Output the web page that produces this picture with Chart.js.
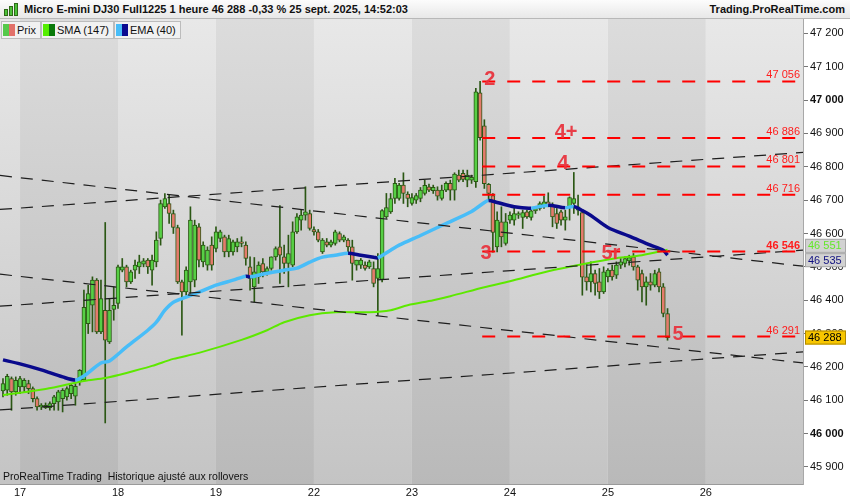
<!DOCTYPE html>
<html>
<head>
<meta charset="utf-8">
<script src="https://cdn.jsdelivr.net/npm/chart.js@4.4.1/dist/chart.umd.min.js"></script>
<style>
  body { margin: 0; background: #fff; }
  #wrap { position: relative; width: 850px; height: 500px; overflow: hidden; font-family: "Liberation Sans", Arial, sans-serif; }
  #chart { position: absolute; left: 0; top: 0; }
  #head { position: absolute; left: 0; top: 0; width: 850px; height: 19px; box-sizing: border-box;
          background: linear-gradient(#fcfcfc, #e8e8e8); border-bottom: 1px solid #b8b8b8;
          font-weight: bold; font-size: 11px; line-height: 18px; color: #111; }
  #head .title { position: absolute; left: 24px; top: 0; }
  #head .site { position: absolute; right: 5px; top: 0; }
  #head .ico { position: absolute; left: 4px; top: 4px; width: 14px; height: 12px; }
  #head .ico span { position: absolute; bottom: 0; width: 2px; background: #4cc23a; border: 1px solid #2f6a18; }
  #legend { position: absolute; left: 1px; top: 21px; display: flex; }
  .item { height: 16px; border: 1px solid #bcbcbc; background: #f1f1f1; font-size: 11px; line-height: 16px;
          padding: 0 4px 0 1px; margin-right: 0; color: #111; white-space: nowrap; }
  .sw { display: inline-block; width: 6px; height: 12px; vertical-align: -2px; }
  .sw + .sw { margin-right: 2px; }
  #foot { position: absolute; left: 3px; top: 470px; font-size: 10.5px; color: #111; white-space: nowrap; }
</style>
</head>
<body>
<div id="wrap">
  <canvas id="chart" width="850" height="500"></canvas>
  <div id="head">
    <div class="ico"><span style="left:0;height:5px"></span><span style="left:5px;height:8px"></span><span style="left:10px;height:11px"></span></div>
    <div class="title">Micro E-mini DJ30 Full1225 1 heure 46 288 -0,33 % 25 sept. 2025, 14:52:03</div>
    <div class="site">Trading.ProRealTime.com</div>
  </div>
  <div id="legend">
    <div class="item"><span class="sw" style="background:#55c94a"></span><span class="sw" style="background:#e2716a"></span>Prix</div>
    <div class="item"><span class="sw" style="background:#55ee00"></span><span class="sw" style="background:#0a7a0a"></span>SMA (147)</div>
    <div class="item"><span class="sw" style="background:#48bdf8"></span><span class="sw" style="background:#0a0a90"></span>EMA (40)</div>
  </div>
  <div id="foot">ProRealTime Trading&nbsp; Historique ajusté aux rollovers</div>
</div>
<script>
// hourly bars, 16 sept 19h -> 25 sept 14h
const opens = [46128,46130,46165,46125,46140,46140,46150,46135,46105,46080,
  46085,46078,46090,46095,46105,46110,46120,46112,46155,46161,
  46330,46385,46460,46305,46370,46275,46372,46390,46490,46500,
  46455,46490,46500,46508,46520,46490,46515,46585,46680,46690,
  46660,46618,46455,46425,46455,46460,46620,46515,46505,46565,
  46555,46585,46590,46545,46545,46560,46575,46565,46500,46440,
  46470,46510,46485,46495,46530,46560,46530,46510,46505,46605,
  46640,46655,46660,46612,46605,46545,46575,46565,46570,46600,
  46580,46580,46560,46505,46505,46505,46500,46495,46465,46462,
  46650,46665,46705,46705,46745,46718,46690,46700,46705,46720,
  46740,46728,46730,46705,46730,46750,46730,46775,46780,46760,
  46760,46755,47022,46923,46747,46714,46560,46635,46570,46640,
  46640,46655,46648,46665,46648,46668,46675,46682,46695,46682,
  46660,46665,46640,46678,46690,46670,46663,46470,46455,46480,
  46455,46425,46470,46490,46475,46505,46510,46518,46530,46500,
  46480,46440,46455,46445,46485,46440,46360];
const highs = [46165,46178,46170,46170,46172,46165,46160,46140,46110,46090,
  46092,46095,46115,46130,46135,46140,46150,46150,46192,46430,
  46445,46470,46465,46460,46633,46405,46440,46505,46525,46505,
  46490,46520,46535,46525,46525,46535,46605,46700,46720,46715,
  46670,46625,46460,46500,46680,46640,46630,46575,46560,46590,
  46620,46610,46595,46595,46580,46585,46590,46575,46530,46528,
  46515,46525,46500,46530,46560,46684,46565,46595,46635,46660,
  46670,46740,46670,46620,46612,46585,46585,46580,46610,46605,
  46595,46585,46580,46520,46525,46515,46520,46515,46540,46672,
  46720,46720,46765,46750,46782,46725,46720,46720,46738,46760,
  46748,46745,46740,46745,46755,46760,46782,46790,46790,46790,
  46775,47035,47056,46941,46750,46720,46665,46680,46660,46665,
  46684,46665,46670,46670,46672,46680,46695,46712,46722,46692,
  46675,46670,46670,46710,46783,46715,46665,46510,46515,46490,
  46495,46500,46495,46505,46515,46525,46530,46535,46540,46505,
  46490,46470,46480,46490,46495,46450,46375];
const lows = [46110,46115,46070,46115,46120,46125,46120,46095,46070,46072,
  46075,46070,46070,46070,46065,46100,46105,46085,46145,46160,
  46300,46305,46300,46300,46032,46270,46340,46375,46485,46440,
  46450,46465,46480,46500,46480,46445,46500,46565,46675,46630,
  46600,46450,46295,46415,46420,46440,46500,46500,46490,46490,
  46545,46575,46530,46530,46535,46545,46560,46505,46430,46395,
  46450,46470,46475,46490,46520,46450,46480,46440,46500,46600,
  46610,46640,46610,46595,46575,46540,46560,46560,46565,46575,
  46575,46545,46460,46490,46495,46490,46495,46440,46355,46455,
  46645,46660,46690,46700,46690,46680,46685,46690,46695,46715,
  46725,46720,46700,46700,46725,46700,46700,46755,46755,46740,
  46750,46738,46880,46735,46700,46544,46545,46560,46565,46630,
  46625,46645,46615,46645,46640,46660,46670,46675,46680,46620,
  46615,46625,46610,46640,46660,46655,46415,46430,46425,46415,
  46405,46420,46455,46460,46465,46495,46500,46505,46490,46430,
  46395,46385,46430,46440,46425,46350,46280];
const closes = [46150,46172,46125,46160,46165,46160,46135,46105,46080,46085,
  46078,46090,46110,46125,46130,46135,46145,46142,46190,46379,
  46420,46460,46305,46405,46280,46370,46385,46500,46500,46455,
  46485,46505,46515,46518,46500,46520,46580,46690,46705,46660,
  46618,46455,46425,46490,46640,46625,46520,46565,46550,46505,
  46605,46605,46545,46585,46575,46575,46570,46525,46465,46485,
  46505,46485,46495,46530,46555,46535,46510,46540,46605,46650,
  46655,46665,46615,46605,46580,46580,46565,46575,46605,46580,
  46590,46560,46510,46520,46520,46495,46515,46450,46495,46669,
  46678,46705,46750,46745,46720,46705,46708,46714,46730,46744,
  46730,46738,46712,46730,46750,46730,46778,46760,46762,46775,
  46768,47025,46887,46749,46720,46603,46640,46590,46635,46655,
  46660,46660,46663,46650,46668,46675,46690,46695,46685,46650,
  46630,46640,46650,46708,46705,46680,46469,46455,46480,46450,
  46425,46485,46490,46470,46505,46515,46525,46528,46500,46460,
  46440,46455,46445,46480,46440,46360,46288];

// SMA (147) and EMA (40) at these bars
const smaBars = [0,10,19,24,29,35,40,46,56,62,66,72,78,86,91,95,101,105,113,119,128,136,144,150,156];
const smaValues = [46116,46134,46158,46167,46182,46203,46224,46242,46281,46310,46334,46355,46364,46364,46370,46385,46400,46412,46439,46457,46487,46508,46526,46535,46551];
const emaBars = [0,4,9,14,17,19,23,25,29,34,36,38,40,43,46,50,54,57,58,62,
  66,69,72,75,78,81,84,87,88,91,93,98,104,110,113,114,116,120,124,128,
  132,134,136,138,142,147,152,155,156];
const emaValues = [46221,46209,46191,46170,46161,46173,46212,46218,46260,46310,46334,46370,46394,46409,46424,46445,46460,46472,46470,46481,
  46490,46496,46514,46529,46535,46541,46535,46529,46527,46550,46565,46594,46630,46666,46693,46699,46693,46680,46676,46685,
  46677,46681,46669,46654,46618,46592,46565,46550,46535];

// day ticks (bar index of 00:00) and labels
const dayTicks = [4, 27, 50, 73, 96, 119, 142, 165];
const dayLabels = ['17', '18', '19', '22', '23', '24', '25', '26'];

// price ticks
const priceTicks = [45900, 46000, 46100, 46200, 46300, 46400, 46500, 46600, 46700, 46800, 46900, 47000, 47100, 47200];

// dashed channel lines: price at left edge / right edge
const trendStart = [46672, 46774, 46478, 46382, 46071];
const trendEnd = [46843, 46502, 46212, 46550, 46245];

// horizontal levels
const levels = [47056, 46886, 46801, 46716, 46546, 46291];
const levelFromBar = 112.5;

const xMin = -0.7, xMax = 187.8;
const yMin = 45849, yMax = 47243;

const fmt = v => Math.round(v).toString().replace(/\B(?=(\d{3})+(?!\d))/g, ' ');

const idx = opens.map((_, i) => i);
const upCol = '#57cf45', downCol = '#e47b6c', edgeCol = '#2b5714';

// wave labels, anchored on bar / price
const waves = [
  { t: '2', x: 114.3, y: 47061 },
  { t: '4+', x: 132.2, y: 46902 },
  { t: '4', x: 131.5, y: 46810 },
  { t: '3', x: 113.4, y: 46541 },
  { t: '5r', x: 142.7, y: 46541 },
  { t: '5', x: 158.5, y: 46296 }
];

const bandPlugin = {
  id: 'bands',
  beforeDraw(chart) {
    const { ctx, chartArea: a, scales: { x } } = chart;
    ctx.save();
    ctx.fillStyle = '#fff';
    ctx.fillRect(0, 0, chart.width, chart.height);
    const edges = [xMin, ...dayTicks, xMax];
    for (let k = 0; k < edges.length - 1; k++) {
      const x0 = Math.max(a.left, x.getPixelForValue(edges[k]));
      const x1 = Math.min(a.right, x.getPixelForValue(edges[k + 1]));
      const g = ctx.createLinearGradient(0, a.top, 0, a.bottom);
      if (k % 2 === 0) { g.addColorStop(0, '#e8e8e8'); g.addColorStop(1, '#c4c4c4'); }
      else { g.addColorStop(0, '#dcdcdc'); g.addColorStop(1, '#b9b9b9'); }
      ctx.fillStyle = g;
      ctx.fillRect(x0, a.top, x1 - x0, a.bottom - a.top);
    }
    ctx.restore();
  }
};

const labelPlugin = {
  id: 'labels',
  afterDatasetsDraw(chart) {
    const { ctx, chartArea: a, scales: { x, y } } = chart;
    ctx.save();
    // level values on the right
    ctx.textAlign = 'right';
    ctx.textBaseline = 'alphabetic';
    levels.forEach(lv => {
      ctx.font = (lv === 46546 ? 'bold ' : '') + '11px "Liberation Sans", Arial, sans-serif';
      ctx.fillStyle = '#ff1c1c';
      ctx.fillText(fmt(lv), a.right - 3, y.getPixelForValue(lv) - 3);
    });
    // wave numbers
    ctx.textAlign = 'center';
    ctx.textBaseline = 'middle';
    ctx.font = 'bold 20px "Liberation Sans", Arial, sans-serif';
    ctx.fillStyle = 'rgba(232, 52, 62, 0.95)';
    waves.forEach(w => ctx.fillText(w.t, x.getPixelForValue(w.x), y.getPixelForValue(w.y)));
    ctx.restore();
  },
  afterDraw(chart) {
    const { ctx, chartArea: a, scales: { y } } = chart;
    const boxes = [
      { v: smaValues[smaValues.length - 1], dy: -4, fg: '#63e82a', bg: '#d2d2d2', bd: '#a8a8a8' },
      { v: emaValues[emaValues.length - 1], dy: 5, fg: '#101080', bg: '#d2d2d2', bd: '#a8a8a8' },
      { v: closes[closes.length - 1], dy: 0, fg: '#000', bg: '#f7c600', bd: '#b08a00' }
    ];
    ctx.save();
    ctx.font = '11px "Liberation Sans", Arial, sans-serif';
    ctx.textAlign = 'left';
    ctx.textBaseline = 'middle';
    boxes.forEach(b => {
      const py = y.getPixelForValue(b.v) + b.dy;
      ctx.fillStyle = b.bg;
      ctx.fillRect(a.right + 2, py - 7, 41, 14);
      ctx.strokeStyle = b.bd;
      ctx.lineWidth = 1;
      ctx.strokeRect(a.right + 2.5, py - 6.5, 40, 13);
      ctx.fillStyle = b.fg;
      ctx.fillText(fmt(b.v), a.right + 5, py + 0.5);
    });
    ctx.restore();
  }
};

const datasets = [];
levels.forEach(lv => datasets.push({
  type: 'line', data: [{ x: levelFromBar, y: lv }, { x: xMax, y: lv }],
  borderColor: '#ff0000', borderWidth: 2, borderDash: [13, 12], pointRadius: 0
}));
trendStart.forEach((p, k) => datasets.push({
  type: 'line', data: [{ x: xMin, y: p }, { x: xMax, y: trendEnd[k] }],
  borderColor: '#1e1e1e', borderWidth: 1.2, borderDash: [12, 9], pointRadius: 0
}));
datasets.push({
  type: 'line', data: emaBars.map((b, k) => ({ x: b, y: emaValues[k] })),
  borderWidth: 3.5, pointRadius: 0, borderColor: '#48bdf8', tension: 0.3,
  segment: { borderColor: c => c.p1.parsed.y < c.p0.parsed.y ? '#0a0a8c' : '#48bdf8' }
});
datasets.push({
  type: 'line', data: smaBars.map((b, k) => ({ x: b, y: smaValues[k] })),
  borderWidth: 2, pointRadius: 0, borderColor: '#5de800', tension: 0.3
});
datasets.push({
  type: 'bar', grouped: false, barThickness: 4, borderWidth: 1, borderSkipped: false,
  data: idx.map(i => ({ x: i, y: [opens[i], closes[i]] })),
  backgroundColor: idx.map(i => closes[i] >= opens[i] ? upCol : downCol),
  borderColor: edgeCol
});
datasets.push({
  type: 'bar', grouped: false, barThickness: 1, borderWidth: 0,
  data: idx.map(i => ({ x: i, y: [lows[i], highs[i]] })),
  backgroundColor: edgeCol
});

new Chart(document.getElementById('chart'), {
  type: 'bar',
  data: { datasets },
  plugins: [bandPlugin, labelPlugin],
  options: {
    responsive: false,
    animation: false,
    devicePixelRatio: 1,
    layout: { padding: { top: 19, left: 0, right: 0, bottom: 0 } },
    plugins: { legend: { display: false }, tooltip: { enabled: false } },
    scales: {
      x: {
        type: 'linear', min: xMin, max: xMax, offset: false,
        grid: { display: false, drawTicks: false },
        border: { display: true, color: '#9a9a9a' },
        afterBuildTicks: s => { s.ticks = dayTicks.map(v => ({ value: v })); },
        afterFit: s => { s.height = 16; },
        ticks: {
          autoSkip: false, maxRotation: 0, padding: 2,
          font: { family: '"Liberation Sans", Arial, sans-serif', size: 11 }, color: '#111',
          callback: v => dayLabels[dayTicks.indexOf(v)]
        }
      },
      y: {
        type: 'linear', position: 'right', min: yMin, max: yMax,
        grid: { drawOnChartArea: false, drawTicks: true, tickLength: 5, color: '#777' },
        border: { display: true, color: '#a8a8a8' },
        afterBuildTicks: s => { s.ticks = priceTicks.map(v => ({ value: v })); },
        afterFit: s => { s.width = 47; },
        ticks: {
          autoSkip: false, padding: 2, color: '#111',
          font: c => ({ family: '"Liberation Sans", Arial, sans-serif', size: 11,
                        weight: c.tick && c.tick.value % 1000 === 0 ? 'bold' : 'normal' }),
          callback: v => fmt(v)
        }
      }
    }
  }
});
</script>
</body>
</html>
